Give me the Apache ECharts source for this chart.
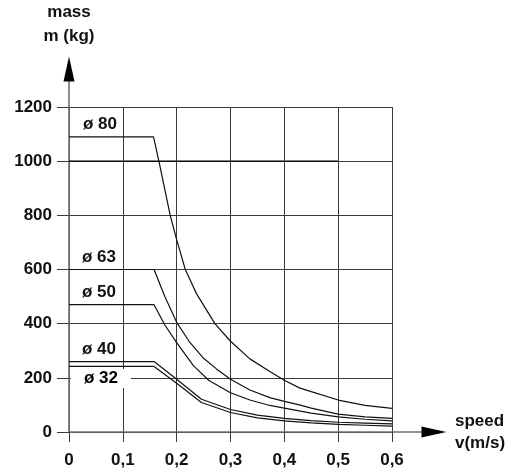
<!DOCTYPE html>
<html>
<head>
<meta charset="utf-8">
<script src="https://cdn.jsdelivr.net/npm/echarts@6/dist/echarts.min.js"></script>
<style>
  html, body { margin: 0; padding: 0; background: #fff; }
  #chart { width: 523px; height: 472px; }
</style>
</head>
<body>
<div id="chart"></div>
<script>
// 读图得到的数据 (speed m/s, mass kg)
var speed80 = [0, 0.157, 0.167, 0.188, 0.2, 0.216, 0.237, 0.271, 0.3, 0.336, 0.373, 0.4, 0.428, 0.45, 0.5, 0.55, 0.6];
var mass80 = [1090, 1090, 1000, 800, 710, 600, 510, 400, 335, 270, 223, 191, 163, 149, 118, 98, 87];
var speed63 = [0, 0.158, 0.178, 0.2, 0.223, 0.25, 0.274, 0.3, 0.336, 0.373, 0.4, 0.428, 0.45, 0.5, 0.55, 0.6];
var mass63 = [600, 600, 500, 405, 335, 272, 233, 195, 155, 127, 113, 100, 88, 66, 56, 50];
var speed50 = [0, 0.158, 0.178, 0.2, 0.231, 0.26, 0.3, 0.336, 0.373, 0.4, 0.45, 0.5, 0.55, 0.6];
var mass50 = [470, 470, 395, 330, 245, 190, 145, 118, 98, 88, 70, 56, 47, 41];
var speed40 = [0, 0.158, 0.2, 0.246, 0.3, 0.35, 0.4, 0.45, 0.5, 0.55, 0.6];
var mass40 = [260, 260, 195, 121, 83, 62, 50, 42, 36, 33, 30];
var speed32 = [0, 0.158, 0.2, 0.246, 0.3, 0.35, 0.4, 0.45, 0.5, 0.55, 0.6];
var mass32 = [242, 242, 180, 109, 72, 52, 41, 34, 28, 25, 22];
// 1000 kg 黑线, 到 0.5 m/s
var limitSpeed = [0, 0.5];
var limitMass = [1000, 1000];
var labels = ['ø 80', 'ø 63', 'ø 50', 'ø 40', 'ø 32'];

var font = "'Liberation Sans', Arial, Helvetica, sans-serif";

function pairs(xs, ys) {
    return xs.map(function (x, i) { return [x, ys[i]]; });
}

function curve(name, xs, ys, offset, extra) {
    var label = {
        show: true,
        formatter: name,
        offset: offset,
        color: '#111',
        fontFamily: font,
        fontWeight: 'bold',
        fontSize: 17
    };
    if (extra) {
        for (var k in extra) label[k] = extra[k];
    }
    return {
        name: name,
        type: 'line',
        xAxisIndex: 0,
        yAxisIndex: 0,
        symbol: 'none',
        data: pairs(xs, ys),
        lineStyle: { color: '#111', width: 1.2 },
        markPoint: {
            symbol: 'circle',
            symbolSize: 0,
            silent: true,
            label: label,
            data: [{ coord: [xs[0], ys[0]] }]
        },
        z: 3
    };
}

// 只画轴线的坐标轴 (grid 1: 黑色箭头, grid 2: 灰色轴线)
function bareAxis(grid, lineColor, lineWidth, arrow) {
    return {
        gridIndex: grid,
        type: 'value',
        min: 0,
        max: 1,
        axisLine: {
            show: true,
            symbol: arrow ? ['none', 'triangle'] : 'none',
            symbolSize: [11, 25],
            lineStyle: { color: lineColor, width: lineWidth }
        },
        axisTick: { show: false },
        axisLabel: { show: false },
        splitLine: { show: false }
    };
}

var nameStyle = {
    color: '#111',
    fontFamily: font,
    fontWeight: 'bold',
    fontSize: 17
};

var xArrow = bareAxis(1, '#000', 0.01, true);
xArrow.name = 'speed\nv(m/s)';
xArrow.nameLocation = 'end';
xArrow.nameGap = 21;
xArrow.nameTextStyle = Object.assign({ lineHeight: 22, align: 'left', padding: [0, 0, 6, 0] }, nameStyle);

var yArrow = bareAxis(1, '#000', 0.01, true);
yArrow.name = 'mass\nm (kg)';
yArrow.nameLocation = 'end';
yArrow.nameGap = 21;
yArrow.nameTextStyle = Object.assign({ lineHeight: 24, align: 'center' }, nameStyle);

var myChart = echarts.init(document.getElementById('chart'));
var option = {
    animation: false,
    backgroundColor: '#fff',
    grid: [
        { left: 69, right: 131, top: 107, bottom: 40 },
        { left: 69, right: 89, top: 66, bottom: 40 },
        { left: 69, right: 89, top: 66, bottom: 40 }
    ],
    xAxis: [{
        gridIndex: 0,
        type: 'value',
        min: 0,
        max: 0.6,
        interval: 0.1,
        axisLine: { show: false },
        axisTick: { show: true, inside: false, length: 10, lineStyle: { color: '#3a3a3a' } },
        splitLine: { show: true, lineStyle: { color: '#3a3a3a', width: 1 } },
        axisLabel: {
            margin: 20,
            color: '#111',
            fontFamily: font,
            fontWeight: 'bold',
            fontSize: 17,
            formatter: function (v) {
                return v === 0 ? '0' : v.toFixed(1).replace('.', ',');
            }
        }
    }, xArrow, bareAxis(2, '#707070', 1.6, false)],
    yAxis: [{
        gridIndex: 0,
        type: 'value',
        min: 0,
        max: 1200,
        interval: 200,
        axisLine: { show: false },
        axisTick: { show: true, inside: false, length: 12, lineStyle: { color: '#3a3a3a' } },
        splitLine: { show: true, lineStyle: { color: '#3a3a3a', width: 1 } },
        axisLabel: {
            margin: 17,
            color: '#111',
            fontFamily: font,
            fontWeight: 'bold',
            fontSize: 17,
            formatter: function (v) { return String(v); }
        }
    }, yArrow, bareAxis(2, '#707070', 1.6, false)],
    series: [
        {
            name: 'limit',
            type: 'line',
            symbol: 'none',
            data: pairs(limitSpeed, limitMass),
            lineStyle: { color: '#000', width: 1.2 },
            z: 2
        },
        curve(labels[0], speed80, mass80, [31, -12]),
        curve(labels[1], speed63, mass63, [30, -12]),
        curve(labels[2], speed50, mass50, [30, -12]),
        curve(labels[3], speed40, mass40, [30, -12]),
        curve(labels[4], speed32, mass32, [32, 12], {
            backgroundColor: '#fff',
            padding: [1, 13, 1, 13],
            color: '#000'
        })
    ]
};
myChart.setOption(option);
</script>
</body>
</html>
